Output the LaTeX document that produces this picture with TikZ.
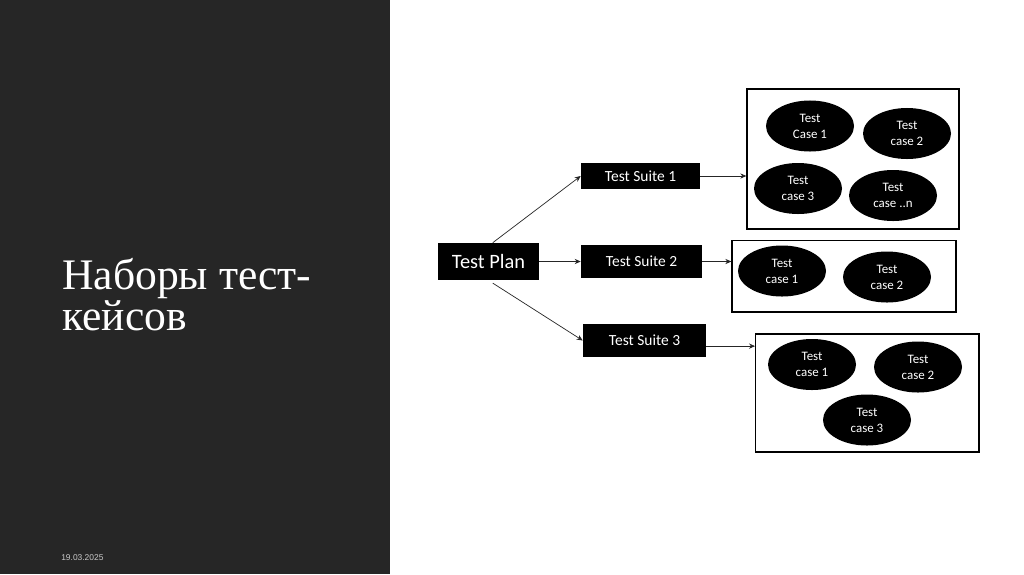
\documentclass[tikz,border=0pt]{standalone}
\usepackage{fontspec}
\setmainfont{Liberation Serif}
\newfontfamily\calfont{Carlito}
\newfontfamily\datefont{Liberation Sans}
\usetikzlibrary{arrows.meta, shapes.geometric, positioning}
\definecolor{SlideDark}{RGB}{38,38,38}
\definecolor{DateGray}{RGB}{200,200,200}

\begin{document}
\begin{tikzpicture}[x=0.025cm, y=-0.025cm,
	blk/.style={rectangle, fill=black, text=white, inner sep=0pt, font=\calfont\fontsize{11}{13}\selectfont},
	tc/.style={ellipse, fill=black, text=white, minimum width=2.2cm, minimum height=1.275cm, inner sep=0pt, align=center, font=\calfont\fontsize{9.2}{11.4}\selectfont},
	grp/.style={rectangle, draw=black, line width=0.9pt, inner sep=0pt},
	fl/.style={-{Stealth[length=1.5mm, width=1.3mm]}, line width=0.5pt, black!85}]

	\useasboundingbox (0,0) rectangle (1024,574);
	% --- slide ---
	\fill[SlideDark] (0,0) rectangle (390,574);
	\fill[white] (390,0) rectangle (1024,574);
	\node[anchor=north west, inner sep=0pt, align=left, text=white, font=\fontsize{31}{29}\selectfont] (title) at (62,258) {Наборы тест-\\кейсов};
	\node[anchor=base west, inner sep=0pt, text=DateGray, font=\datefont\fontsize{6}{7}\selectfont] (date) at (61,560) {19.03.2025};

	% --- plan and suites ---
	\node[blk, minimum width=2.525cm, minimum height=0.925cm, font=\calfont\fontsize{14.5}{16}\selectfont] (plan) at (488.5,261.5) {Test Plan};
	\node[blk, minimum width=2.975cm, minimum height=0.65cm] (s1) at (640.5,176) {Test Suite 1};
	\node[blk, minimum width=3.025cm, minimum height=0.825cm] (s2) at (641.5,261.5) {Test Suite 2};
	\node[blk, minimum width=3.075cm, minimum height=0.825cm] (s3) at (644.5,340.5) {Test Suite 3};
	\draw[fl] ([xshift=3pt]plan.north) -- (s1.west);
	\draw[fl] (plan.east) -- (s2.west);
	\draw[fl] ([xshift=3pt, yshift=-2pt]plan.south) -- (s3.west);

	% --- case groups ---
	\node[grp, minimum width=5.3cm, minimum height=3.5cm] (g1) at (853,159) {};
	\node[grp, minimum width=5.6cm, minimum height=1.78cm] (g2) at (844,276.3) {};
	\node[grp, minimum width=5.58cm, minimum height=2.95cm] (g3) at (867.3,393) {};
	\draw[fl] (s1.east) -- (s1.east -| g1.west);
	\draw[fl] (s2.east) -- (s2.east -| g2.west);
	\draw[fl] ([yshift=-4pt]s3.east) -- ([yshift=-4pt]s3.east -| g3.west);

	% --- cases ---
	\node[tc] (c11) at (810,126) {Test\\Case 1};
	\node[tc] (c12) at (907,133.5) {Test\\case 2};
	\node[tc] (c13) at (798,188.5) {Test\\case 3};
	\node[tc] (c14) at (893,195.5) {Test\\case ..n};
	\node[tc] (c21) at (782,271) {Test\\case 1};
	\node[tc] (c22) at (887,277) {Test\\case 2};
	\node[tc] (c31) at (812,364.5) {Test\\case 1};
	\node[tc] (c32) at (918,367) {Test\\case 2};
	\node[tc] (c33) at (867,420) {Test\\case 3};
\end{tikzpicture}
\end{document}
